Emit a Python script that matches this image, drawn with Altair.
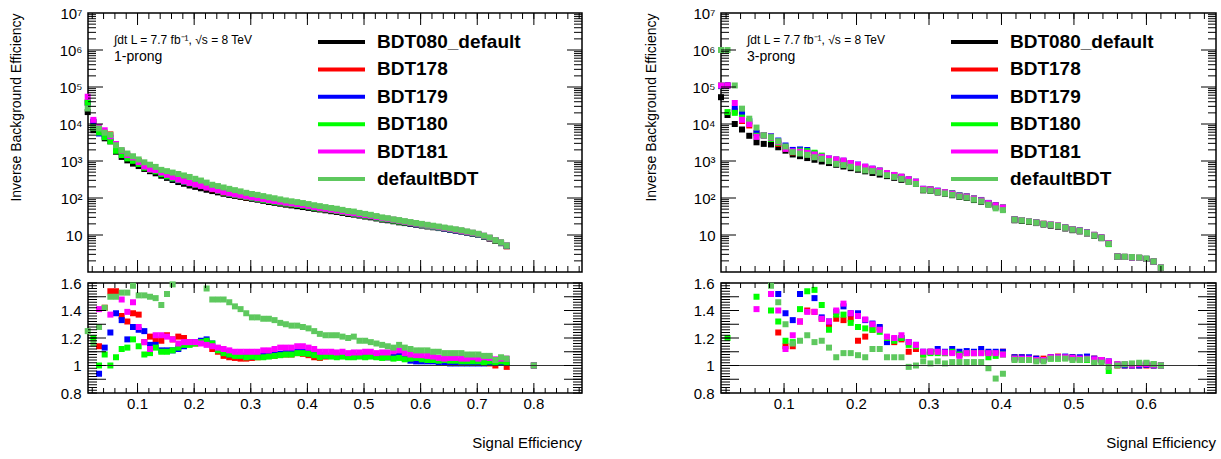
import altair as alt
import pandas as pd

SERIES = ["BDT080_default", "BDT178", "BDT179", "BDT180", "BDT181", "defaultBDT"]
COLORS = ["#000000", "#ff0000", "#0000ff", "#00ff00", "#ff00ff", "#5ec85e"]

# ---------------- 1-prong ----------------
X1 = [0.012, 0.022, 0.032, 0.042, 0.052, 0.062, 0.072, 0.082, 0.092, 0.102,
      0.112, 0.122, 0.132, 0.142, 0.152, 0.162, 0.172, 0.182, 0.192, 0.202,
      0.212, 0.222, 0.232, 0.242, 0.252, 0.262, 0.272, 0.282, 0.292, 0.302,
      0.312, 0.322, 0.332, 0.342, 0.352, 0.362, 0.372, 0.382, 0.392, 0.402,
      0.412, 0.422, 0.432, 0.442, 0.452, 0.462, 0.472, 0.482, 0.492, 0.502,
      0.512, 0.522, 0.532, 0.542, 0.552, 0.562, 0.572, 0.582, 0.592, 0.602,
      0.612, 0.622, 0.632, 0.642, 0.652, 0.662, 0.672, 0.682, 0.692, 0.702,
      0.712, 0.722, 0.732, 0.742, 0.752, 0.800]
BASE1 = [21000, 6800, 5900, 4100, 3400, 1780, 1290, 1040, 850, 730,
         610, 530, 465, 400, 350, 306, 270, 242, 218, 200,
         183, 167, 154, 142, 130, 121, 114, 107, 100, 95,
         90, 84, 78, 74, 70, 66, 63, 60, 57, 54,
         51, 49, 46.5, 44, 42, 39.5, 37, 35.5, 33.5, 31.5,
         30, 28, 26, 25, 23.5, 22, 21, 20, 19, 18,
         17, 16.2, 15.4, 14.6, 13.8, 13.1, 12.4, 11.6, 10.8, 10,
         9, 8, 7, 6, 5, 0.8]
R1_BDT178 = [1.8, 1.65, 1.14, 1.42, 1.54, 1.54, 1.36, 1.32, 1.38, 1.37,
             1.17, 1.21, 1.19, 1.18, 1.22, 1.19, 1.21, 1.20, 1.17, 1.16,
             1.17, 1.17, 1.12, 1.10, 1.07, 1.06, 1.055, 1.05, 1.05, 1.055,
             1.06, 1.065, 1.07, 1.07, 1.08, 1.08, 1.08, 1.09, 1.085, 1.075,
             1.06, 1.055, 1.065, 1.07, 1.07, 1.07, 1.065, 1.07, 1.07, 1.065,
             1.07, 1.065, 1.07, 1.06, 1.06, 1.07, 1.055, 1.05, 1.05, 1.045,
             1.04, 1.035, 1.04, 1.035, 1.03, 1.03, 1.03, 1.025, 1.02, 1.025,
             1.02, 1.015, 1.0, 1.02, 0.99, 1.0]
R1_BDT179 = [1.8, 1.7, 0.94, 1.13, 1.24, 1.38, 1.33, 1.19, 1.28, 1.26,
             1.25, 1.15, 1.15, 1.11, 1.11, 1.11, 1.12, 1.14, 1.16, 1.17,
             1.18, 1.19, 1.16, 1.12, 1.10, 1.08, 1.075, 1.07, 1.07, 1.065,
             1.07, 1.07, 1.075, 1.08, 1.085, 1.09, 1.09, 1.10, 1.10, 1.09,
             1.08, 1.075, 1.07, 1.07, 1.07, 1.07, 1.07, 1.065, 1.07, 1.07,
             1.07, 1.065, 1.065, 1.06, 1.06, 1.07, 1.05, 1.035, 1.03, 1.03,
             1.03, 1.03, 1.025, 1.02, 1.015, 1.015, 1.015, 1.015, 1.015, 1.015,
             1.015, 1.02, 1.02, 1.02, 1.02, 1.0]
R1_BDT180 = [1.8, 1.2, 1.0, 1.08, 1.0, 1.06, 1.12, 1.13, 1.19, 1.14,
             1.08, 1.09, 1.13, 1.10, 1.10, 1.11, 1.13, 1.15, 1.15, 1.16,
             1.17, 1.18, 1.16, 1.11, 1.09, 1.08, 1.07, 1.07, 1.06, 1.065,
             1.06, 1.06, 1.065, 1.07, 1.075, 1.08, 1.08, 1.09, 1.09, 1.085,
             1.075, 1.06, 1.07, 1.065, 1.06, 1.065, 1.06, 1.06, 1.065, 1.06,
             1.065, 1.06, 1.055, 1.06, 1.05, 1.055, 1.045, 1.05, 1.055, 1.045,
             1.04, 1.04, 1.035, 1.04, 1.035, 1.035, 1.03, 1.03, 1.03, 1.03,
             1.025, 1.03, 1.02, 1.03, 1.025, 1.0]
R1_BDT181 = [2.6, 1.9, 1.41, 1.65, 1.37, 1.62, 1.48, 1.39, 1.46, 1.28,
             1.17, 1.12, 1.22, 1.22, 1.21, 1.19, 1.16, 1.17, 1.17, 1.17,
             1.16, 1.15, 1.14, 1.13, 1.12, 1.11, 1.10, 1.10, 1.10, 1.10,
             1.10, 1.11, 1.11, 1.12, 1.13, 1.13, 1.13, 1.14, 1.14, 1.13,
             1.12, 1.10, 1.10, 1.10, 1.095, 1.10, 1.09, 1.095, 1.095, 1.10,
             1.10, 1.09, 1.095, 1.095, 1.105, 1.11, 1.09, 1.08, 1.075, 1.075,
             1.07, 1.065, 1.055, 1.05, 1.055, 1.055, 1.05, 1.05, 1.06, 1.05,
             1.06, 1.055, 1.045, 1.05, 1.05, 1.0]
R1_DEFAULT = [1.25, 1.16, 1.28, 1.42, 1.50, 1.50, 1.53, 1.53, 1.58, 1.51,
              1.51, 1.50, 1.49, 1.44, 1.52, 1.59, 1.65, 1.68, 1.70, 1.65,
              1.62, 1.56, 1.48, 1.48, 1.48, 1.46, 1.43, 1.41, 1.38, 1.35,
              1.35, 1.34, 1.34, 1.33, 1.31, 1.30, 1.29, 1.29, 1.28, 1.27,
              1.25, 1.23, 1.22, 1.22, 1.22, 1.21, 1.20, 1.21, 1.18, 1.18,
              1.17, 1.16, 1.15, 1.14, 1.13, 1.15, 1.13, 1.12, 1.11, 1.11,
              1.11, 1.10, 1.10, 1.09, 1.09, 1.09, 1.09, 1.08, 1.08, 1.08,
              1.07, 1.07, 1.04, 1.06, 1.05, 1.0]

# ---------------- 3-prong ----------------
X3 = [0.013, 0.022, 0.032, 0.042, 0.052, 0.062, 0.072, 0.082, 0.092, 0.102,
      0.112, 0.122, 0.132, 0.142, 0.152, 0.162, 0.172, 0.182, 0.192, 0.202,
      0.212, 0.222, 0.232, 0.242, 0.252, 0.262, 0.272, 0.282, 0.292, 0.302,
      0.312, 0.322, 0.332, 0.342, 0.352, 0.362, 0.372, 0.382, 0.392, 0.402,
      0.418, 0.428, 0.438, 0.448, 0.458, 0.468, 0.478, 0.488, 0.498, 0.508,
      0.518, 0.528, 0.538, 0.548, 0.560, 0.570, 0.580, 0.590, 0.600, 0.610,
      0.620]
BASE3 = [53000, 17500, 10000, 7100, 4800, 3200, 2900, 2800, 2350, 1900,
         1500, 1350, 1200, 1080, 970, 880, 790, 710, 640, 580,
         525, 475, 430, 390, 350, 310, 275, 240, 161, 155,
         141, 131, 119, 107, 100, 88, 79, 67, 58, 50,
         25, 24, 22.5, 21, 19.2, 17.9, 16.8, 15, 13.5, 12.5,
         11, 9.6, 8.2, 5.9, 2.6, 2.55, 2.5, 2.4, 2.25, 1.9,
         1.3]
R3_BDT178 = [2.0, 6.3, 2.2, 1.7, 1.9, 1.75, 1.7, 1.62, 1.24, 1.14,
             1.14, 1.32, 1.40, 1.39, 1.34, 1.30, 1.34, 1.33, 1.34, 1.18,
             1.21, 1.26, 1.27, 1.18, 1.17, 1.19, 1.10, 1.12, 1.08, 1.10,
             1.10, 1.09, 1.10, 1.08, 1.09, 1.09, 1.10, 1.09, 1.09, 1.10,
             1.06, 1.06, 1.05, 1.05, 1.05, 1.06, 1.065, 1.06, 1.06, 1.05,
             1.06, 1.05, 1.04, 1.02, 1.0, 1.0, 1.0, 1.0, 1.0, 1.0,
             1.0]
R3_BDT179 = [2.0, 6.3, 2.6, 2.8, 2.5, 1.8, 1.7, 1.65, 1.52, 1.38,
             1.33, 1.52, 1.65, 1.49, 1.35, 1.32, 1.39, 1.43, 1.38, 1.38,
             1.33, 1.305, 1.28, 1.17, 1.19, 1.20, 1.17, 1.15, 1.10, 1.10,
             1.12, 1.10, 1.12, 1.10, 1.105, 1.10, 1.12, 1.10, 1.10, 1.10,
             1.06, 1.06, 1.06, 1.05, 1.04, 1.06, 1.06, 1.065, 1.06, 1.06,
             1.065, 1.05, 1.04, 1.03, 1.005, 1.0, 1.0, 1.0, 1.005, 1.0,
             1.0]
R3_BDT180 = [2.08, 1.20, 2.0, 2.1, 2.3, 1.50, 1.7, 1.40, 1.32, 1.18,
             1.17, 1.41, 1.54, 1.55, 1.44, 1.26, 1.37, 1.37, 1.31, 1.28,
             1.27, 1.26, 1.245, 1.20, 1.18, 1.20, 1.15, 1.14, 1.08, 1.09,
             1.09, 1.09, 1.10, 1.08, 1.09, 1.09, 1.09, 1.06, 1.07, 1.08,
             1.05, 1.04, 1.04, 1.04, 1.04, 1.05, 1.05, 1.055, 1.05, 1.04,
             1.04, 1.03, 1.03, 0.96, 1.01, 1.01, 1.01, 1.01, 1.015, 1.01,
             1.0]
R3_BDT181 = [2.08, 6.3, 3.7, 1.83, 2.08, 1.41, 1.7, 1.52, 1.40, 1.12,
             1.22, 1.32, 1.39, 1.39, 1.34, 1.32, 1.40, 1.45, 1.38, 1.36,
             1.335, 1.30, 1.26, 1.21, 1.20, 1.22, 1.17, 1.15, 1.10, 1.10,
             1.10, 1.095, 1.09, 1.07, 1.09, 1.09, 1.09, 1.09, 1.09, 1.08,
             1.05, 1.05, 1.05, 1.04, 1.04, 1.06, 1.06, 1.06, 1.055, 1.05,
             1.05, 1.045, 1.04, 1.03, 1.01, 1.01, 1.005, 1.01, 1.01, 1.005,
             1.0]
R3_DEFAULT = [18.9, 57, 11, 3.66, 2.9, 2.5, 1.7, 1.58, 1.46, 1.30,
              1.16, 1.18, 1.22, 1.17, 1.18, 1.13, 1.06, 1.09, 1.09, 1.075,
              1.06, 1.12, 1.12, 1.06, 1.06, 1.06, 0.99, 1.0, 1.03, 1.015,
              1.03, 1.015, 1.025, 1.025, 1.025, 1.025, 1.025, 0.98, 0.905, 0.94,
              1.04, 1.04, 1.04, 1.03, 1.03, 1.05, 1.05, 1.05, 1.04, 1.04,
              1.045, 1.02, 1.02, 0.99, 1.0, 1.01, 1.015, 1.02, 1.02, 1.01,
              1.0]

XLAB1 = ["0.1", "0.2", "0.3", "0.4", "0.5", "0.6", "0.7", "0.8"]
XLAB3 = ["0.1", "0.2", "0.3", "0.4", "0.5", "0.6"]
ANNOT = "\u222bdt L = 7.7 fb\u207b\u00b9, \u221as = 8 TeV"
XTITLE = "Signal Efficiency"
YTITLE = "Inverse Background Efficiency"
FONT = "Liberation Sans"
H_TOP, H_RAT = 259, 110
CSCALE = alt.Scale(domain=SERIES, range=COLORS)


def long_top(xs, base, ratios):
    rows = []
    for s, name in enumerate(SERIES):
        for i, (x, b) in enumerate(zip(xs, base)):
            v = b if s == 0 else b * ratios[s - 1][i]
            if 1.0 <= v <= 1e7:
                rows.append({"x": x, "y": v, "series": name, "o": s * 1000 + i})
    return pd.DataFrame(rows)


def long_ratio(xs, ratios):
    rows = []
    for s, name in enumerate(SERIES[1:], start=1):
        for i, x in enumerate(xs):
            r = ratios[s - 1][i]
            if 0.79 <= r <= 1.61:
                rows.append({"x": x, "r": r, "series": name, "o": s * 1000 + i})
    return pd.DataFrame(rows)


def yticks(vals, length, width, scale):
    base = alt.Chart(pd.DataFrame({"tv": vals})).mark_rule(color="black", strokeWidth=1)
    enc = alt.Y("tv:Q", scale=scale, axis=None)
    return [base.encode(y=enc, x=alt.value(0), x2=alt.value(length)),
            base.encode(y=enc, x=alt.value(width - length), x2=alt.value(width))]


def xticks(vals, length, height, scale):
    base = alt.Chart(pd.DataFrame({"th": vals})).mark_rule(color="black", strokeWidth=1)
    enc = alt.X("th:Q", scale=scale, axis=None)
    return [base.encode(x=enc, y=alt.value(0), y2=alt.value(length)),
            base.encode(x=enc, y=alt.value(height - length), y2=alt.value(height))]


SUP = {2: "\u00b2", 3: "\u00b3", 4: "\u2074", 5: "\u2075", 6: "\u2076", 7: "\u2077"}
e = "''"
for k in range(7, 1, -1):
    e = f"(round(log(datum.value)/LN10) == {k} ? '{SUP[k]}' : {e})"
LOG_LABEL = "'10' + " + e

LOG_MAJOR = [10.0, 100.0, 1e3, 1e4, 1e5, 1e6]
LOG_MINOR = [m * 10.0 ** d for d in range(0, 7) for m in range(2, 10)]
RAT_MAJOR = [0.9, 1.0, 1.1, 1.2, 1.3, 1.4, 1.5]
RAT_MINOR = [round(0.8 + 0.02 * i, 2) for i in range(41)]


def panels(xs, base, ratios, xdom, width, xlab, prong, title_x):
    xs_scale = alt.Scale(domain=xdom, nice=False, zero=False)
    ylog = alt.Scale(type="log", domain=[1, 1e7], nice=False)
    yrat = alt.Scale(domain=[0.8, 1.6], nice=False, zero=False)
    x_major = [v for v in [0.1, 0.2, 0.3, 0.4, 0.5, 0.6, 0.7, 0.8] if xdom[0] < v < xdom[1]]
    x_minor = [round(0.02 * i, 2) for i in range(1, 45) if xdom[0] < 0.02 * i < xdom[1]]

    dft = long_top(xs, base, ratios)
    pts = alt.Chart(dft).mark_square(size=36, opacity=1).encode(
        x=alt.X("x:Q", scale=xs_scale, axis=None),
        y=alt.Y("y:Q", scale=ylog, axis=alt.Axis(
            values=[10, 100, 1e3, 1e4, 1e5, 1e6, 1e7], labelExpr=LOG_LABEL,
            ticks=False, domain=False, grid=False, labelFontSize=15, labelPadding=6,
            title=YTITLE, titleFontSize=14,
            titleFontWeight="normal", titleAngle=270, titleAlign="right",
            titleBaseline="middle", titleX=title_x, titleY=0)),
        color=alt.Color("series:N", scale=CSCALE, legend=None),
        order=alt.Order("o:Q"),
    )
    leg_df = pd.DataFrame({"idx": list(range(6)), "series": SERIES})
    yleg = alt.Scale(domain=[0, 5], range=[29, 166])
    leg_line = alt.Chart(leg_df).mark_rule(strokeWidth=4).encode(
        x=alt.value(230), x2=alt.value(277),
        y=alt.Y("idx:Q", scale=yleg, axis=None),
        color=alt.Color("series:N", scale=CSCALE, legend=None))
    leg_text = alt.Chart(leg_df).mark_text(
        align="left", baseline="middle", font=FONT, fontSize=19,
        fontWeight="bold", color="black").encode(
        x=alt.value(289), y=alt.Y("idx:Q", scale=yleg, axis=None), text="series:N")
    ann1 = alt.Chart(pd.DataFrame({"t": [ANNOT]})).mark_text(
        align="left", baseline="middle", font=FONT, fontSize=12, color="black").encode(
        x=alt.value(26), y=alt.value(27), text="t:N")
    ann2 = alt.Chart(pd.DataFrame({"t": [prong]})).mark_text(
        align="left", baseline="middle", font=FONT, fontSize=14, color="black").encode(
        x=alt.value(26), y=alt.value(44), text="t:N")

    top_layers = [pts]
    top_layers += yticks(LOG_MAJOR, 15, width, ylog)
    top_layers += yticks(LOG_MINOR, 8, width, ylog)
    top_layers += xticks(x_major, 12, H_TOP, xs_scale)
    top_layers += xticks(x_minor, 6, H_TOP, xs_scale)
    top_layers += [leg_line, leg_text, ann1, ann2]
    top = alt.layer(*top_layers).resolve_scale(y="independent").properties(
        width=width, height=H_TOP)

    dfr = long_ratio(xs, ratios)
    rpts = alt.Chart(dfr).mark_square(size=36, opacity=1).encode(
        x=alt.X("x:Q", scale=xs_scale, axis=None),
        y=alt.Y("r:Q", scale=yrat, axis=alt.Axis(
            values=[0.8, 0.9, 1.0, 1.1, 1.2, 1.3, 1.4, 1.5, 1.6],
            labelExpr="abs(datum.value - 1) < 0.001 ? '1' : format(datum.value, '.1f')",
            ticks=False, domain=False, grid=False, labelFontSize=15,
            labelPadding=7, title=None)),
        color=alt.Color("series:N", scale=CSCALE, legend=None),
        order=alt.Order("o:Q"),
    )
    one = alt.Chart(pd.DataFrame({"ref": [1.0]})).mark_rule(
        color="#333333", strokeWidth=1.2).encode(y=alt.Y("ref:Q", scale=yrat, axis=None))
    lab_df = pd.DataFrame({"lv": x_major, "lt": xlab})
    xlabels = alt.Chart(lab_df).mark_text(
        align="center", baseline="top", font=FONT, fontSize=15, color="black").encode(
        x=alt.X("lv:Q", scale=xs_scale, axis=None), y=alt.value(H_RAT + 4), text="lt:N")
    xtitle = alt.Chart(pd.DataFrame({"t": [XTITLE]})).mark_text(
        align="right", baseline="alphabetic", font=FONT, fontSize=15, color="black").encode(
        x=alt.value(width), y=alt.value(H_RAT + 55), text="t:N")
    bot_layers = [rpts, one]
    bot_layers += yticks(RAT_MAJOR, 18, width, yrat)
    bot_layers += yticks(RAT_MINOR, 9, width, yrat)
    bot_layers += xticks(x_major, 10, H_RAT, xs_scale)
    bot_layers += xticks(x_minor, 5, H_RAT, xs_scale)
    bot_layers += [xlabels, xtitle]
    bottom = alt.layer(*bot_layers).resolve_scale(y="independent").properties(
        width=width, height=H_RAT)
    return top, bottom


top1, bot1 = panels(X1, BASE1, [R1_BDT178, R1_BDT179, R1_BDT180, R1_BDT181, R1_DEFAULT],
                    [0.0125, 0.885], 494, XLAB1, "1-prong", -72)
top3, bot3 = panels(X3, BASE3, [R3_BDT178, R3_BDT179, R3_BDT180, R3_BDT181, R3_DEFAULT],
                    [0.013, 0.696], 495, XLAB3, "3-prong", -70)

chart = alt.concat(
    top1, top3, bot1, bot3, columns=2,
    spacing={"row": 11, "column": 139}, bounds="flush",
).properties(
    padding={"left": 8, "top": 5, "right": 2, "bottom": 64},
    background="white",
).configure_view(
    stroke="black", strokeWidth=1.5
).configure_axis(
    labelFont=FONT, titleFont=FONT, labelColor="black", titleColor="black"
)

chart.save("out.html", embed_options={"renderer": "svg", "actions": False})
